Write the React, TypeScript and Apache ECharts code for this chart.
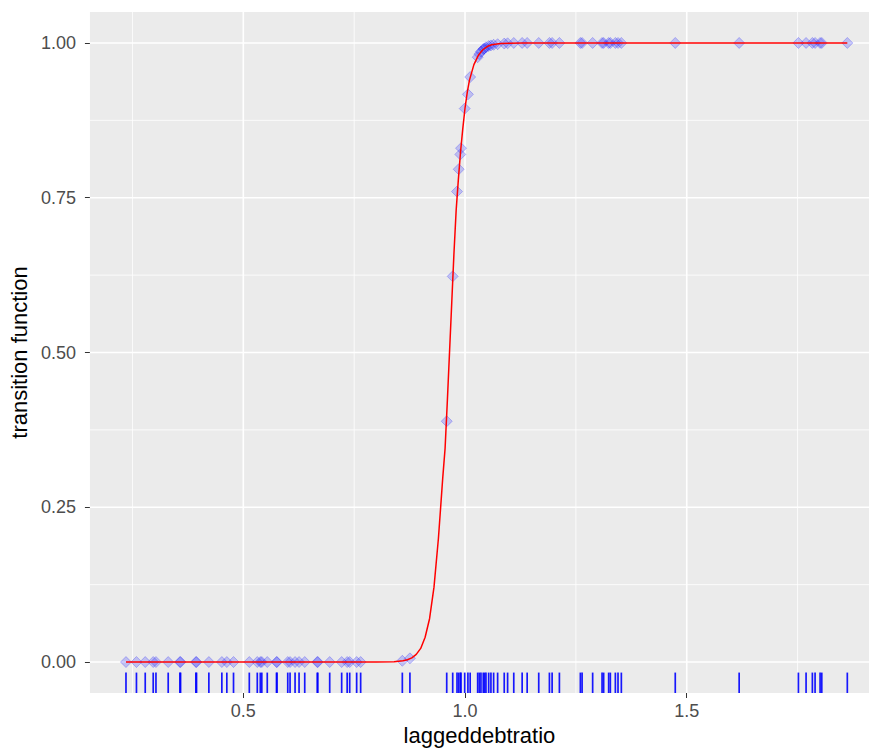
import React, { useEffect, useRef } from "react";
import * as echarts from "echarts";

// x values of observations whose transition value is ~0
const lowX = [
  0.2354, 0.259, 0.2788, 0.2968, 0.303, 0.3306, 0.357, 0.3585, 0.393, 0.3945,
  0.4223, 0.4516, 0.4628, 0.4779, 0.5135, 0.5315, 0.5383, 0.5417, 0.554, 0.5748,
  0.576, 0.6002, 0.6054, 0.6167, 0.6257, 0.6385, 0.6667, 0.668, 0.6948, 0.7218,
  0.7342, 0.7399, 0.7556, 0.7646,
];
// observations in the transition zone
const rampX = [
  0.8586, 0.8757, 0.9587, 0.9722, 0.9819, 0.9857, 0.9893, 0.9909, 0.9993, 1.0065,
  1.0116, 1.0285, 1.0322, 1.0359, 1.0411, 1.044, 1.0472, 1.0533, 1.0584, 1.0645,
  1.0735, 1.0884, 1.096,
];
const rampY = [
  0.002, 0.006, 0.389, 0.623, 0.76, 0.796, 0.82, 0.83, 0.894, 0.917,
  0.945, 0.977, 0.982, 0.986, 0.99, 0.991, 0.993, 0.995, 0.996, 0.997,
  0.998, 0.999, 0.9995,
];
// observations whose transition value is ~1
const highX = [
  1.1099, 1.1288, 1.1401, 1.1662, 1.1903, 1.1964, 1.2128, 1.2601, 1.264, 1.2878,
  1.309, 1.3126, 1.3239, 1.3277, 1.339, 1.345, 1.3525, 1.4741, 1.6182, 1.7518,
  1.7691, 1.7833, 1.7894, 1.8007, 1.8045, 1.8621,
];
// fitted transition curve
const curveX = [
  0.2354, 0.7, 0.8, 0.84, 0.86, 0.87, 0.88, 0.89, 0.9, 0.91, 0.92, 0.93, 0.94,
  0.95, 0.955, 0.96, 0.965, 0.97, 0.975, 0.98, 0.985, 0.99, 0.995, 1.0, 1.005,
  1.01, 1.02, 1.03, 1.04, 1.05, 1.06, 1.08, 1.1, 1.13, 1.8621,
];
const curveY = [
  0, 0, 0.0001, 0.0006, 0.0021, 0.0038, 0.0068, 0.0124, 0.022, 0.04, 0.07, 0.121,
  0.2, 0.3, 0.345, 0.42, 0.5, 0.58, 0.66, 0.73, 0.78, 0.825, 0.862, 0.895,
  0.92, 0.94, 0.965, 0.98, 0.989, 0.9942, 0.997, 0.9991, 0.9997, 1, 1,
];

const xMajor = [0.5, 1.0, 1.5];
const xMinor = [0.25, 0.75, 1.25, 1.75];
const yMajor = [0, 0.25, 0.5, 0.75, 1.0];
const yMinor = [0.125, 0.375, 0.625, 0.875];
const xTickLabels = ["0.5", "1.0", "1.5"];
const yTickLabels = ["0.00", "0.25", "0.50", "0.75", "1.00"];

const X_MIN = 0.1541;
const X_MAX = 1.911;
const Y_MIN = -0.05;
const Y_MAX = 1.05;

export default function App() {
  const ref = useRef<HTMLDivElement>(null);

  useEffect(() => {
    const chart = echarts.init(ref.current as HTMLDivElement, null, { renderer: "svg" });

    const points = [
      ...lowX.map((x) => [x, 0]),
      ...rampX.map((x, i) => [x, rampY[i]]),
      ...highX.map((x) => [x, 1]),
    ];
    const rugData = [...lowX, ...rampX, ...highX].map((x) => [x, Y_MIN]);
    const curve = curveX.map((x, i) => [x, curveY[i]]);

    const vLines = (width: number) => (params: any, api: any) => {
      const cs = params.coordSys;
      const x = api.coord([api.value(0), 0])[0];
      return {
        type: "line",
        shape: { x1: x, y1: cs.y, x2: x, y2: cs.y + cs.height },
        style: { stroke: "#FFFFFF", lineWidth: width },
      };
    };
    const hLines = (width: number) => (params: any, api: any) => {
      const cs = params.coordSys;
      const y = api.coord([X_MIN, api.value(1)])[1];
      return {
        type: "line",
        shape: { x1: cs.x, y1: y, x2: cs.x + cs.width, y2: y },
        style: { stroke: "#FFFFFF", lineWidth: width },
      };
    };

    const labelStyle = {
      color: "#4D4D4D",
      fontSize: 18,
      fontFamily: "Liberation Sans, Arial, sans-serif",
    };

    chart.setOption({
      animation: false,
      textStyle: { fontFamily: "Liberation Sans, Arial, sans-serif" },
      grid: {
        left: 89,
        right: 0,
        top: 12,
        bottom: 63,
        show: true,
        backgroundColor: "#EBEBEB",
        borderWidth: 0,
        borderColor: "transparent",
      },
      xAxis: {
        type: "value",
        min: X_MIN,
        max: X_MAX,
        name: "laggeddebtratio",
        nameLocation: "middle",
        nameGap: 31,
        nameTextStyle: { color: "#000000", fontSize: 22, fontFamily: "Liberation Sans, Arial, sans-serif" },
        axisLine: { show: false, onZero: false },
        splitLine: { show: false },
        axisTick: { show: true, customValues: xMajor, length: 5, lineStyle: { color: "#333333", width: 1 } },
        axisLabel: {
          ...labelStyle,
          margin: 9,
          customValues: xMajor,
          formatter: (v: number) => {
            const i = xMajor.indexOf(v);
            return i >= 0 ? xTickLabels[i] : v.toFixed(1);
          },
        },
      },
      yAxis: {
        type: "value",
        min: Y_MIN,
        max: Y_MAX,
        name: "transition function",
        nameLocation: "middle",
        nameGap: 55,
        nameRotate: 90,
        nameTextStyle: { color: "#000000", fontSize: 22, fontFamily: "Liberation Sans, Arial, sans-serif" },
        axisLine: { show: false, onZero: false },
        splitLine: { show: false },
        axisTick: { show: true, customValues: yMajor, length: 5, lineStyle: { color: "#333333", width: 1 } },
        axisLabel: {
          ...labelStyle,
          margin: 14,
          customValues: yMajor,
          formatter: (v: number) => {
            const i = yMajor.indexOf(v);
            return i >= 0 ? yTickLabels[i] : v.toFixed(2);
          },
        },
      },
      series: [
        { type: "custom", z: 1, silent: true, renderItem: vLines(0.8), data: xMinor.map((v) => [v, 0]) },
        { type: "custom", z: 1, silent: true, renderItem: hLines(0.8), data: yMinor.map((v) => [X_MIN, v]) },
        { type: "custom", z: 1, silent: true, renderItem: vLines(1.6), data: xMajor.map((v) => [v, 0]) },
        { type: "custom", z: 1, silent: true, renderItem: hLines(1.6), data: yMajor.map((v) => [X_MIN, v]) },
        {
          type: "scatter",
          z: 3,
          symbol: "diamond",
          symbolSize: 11,
          itemStyle: { color: "rgba(0,0,255,0.24)", borderColor: "rgba(0,0,255,0.3)", borderWidth: 1 },
          data: points,
        },
        {
          type: "line",
          z: 4,
          showSymbol: false,
          symbol: "none",
          lineStyle: { color: "#FF0000", width: 1.5 },
          data: curve,
        },
        {
          type: "custom",
          z: 3,
          silent: true,
          renderItem: (params: any, api: any) => {
            const x = api.value(0);
            const p0 = api.coord([x, Y_MIN]);
            const p1 = api.coord([x, Y_MIN + 0.033]);
            return {
              type: "line",
              shape: { x1: p0[0], y1: p0[1], x2: p1[0], y2: p1[1] },
              style: { stroke: "#0000FF", lineWidth: 1.7, opacity: 0.9 },
            };
          },
          data: rugData,
        },
      ],
    });

    return () => chart.dispose();
  }, []);

  return (
    <div
      ref={ref}
      style={{ position: "fixed", left: 0, top: 0, width: 869, height: 756, background: "#FFFFFF" }}
    />
  );
}
